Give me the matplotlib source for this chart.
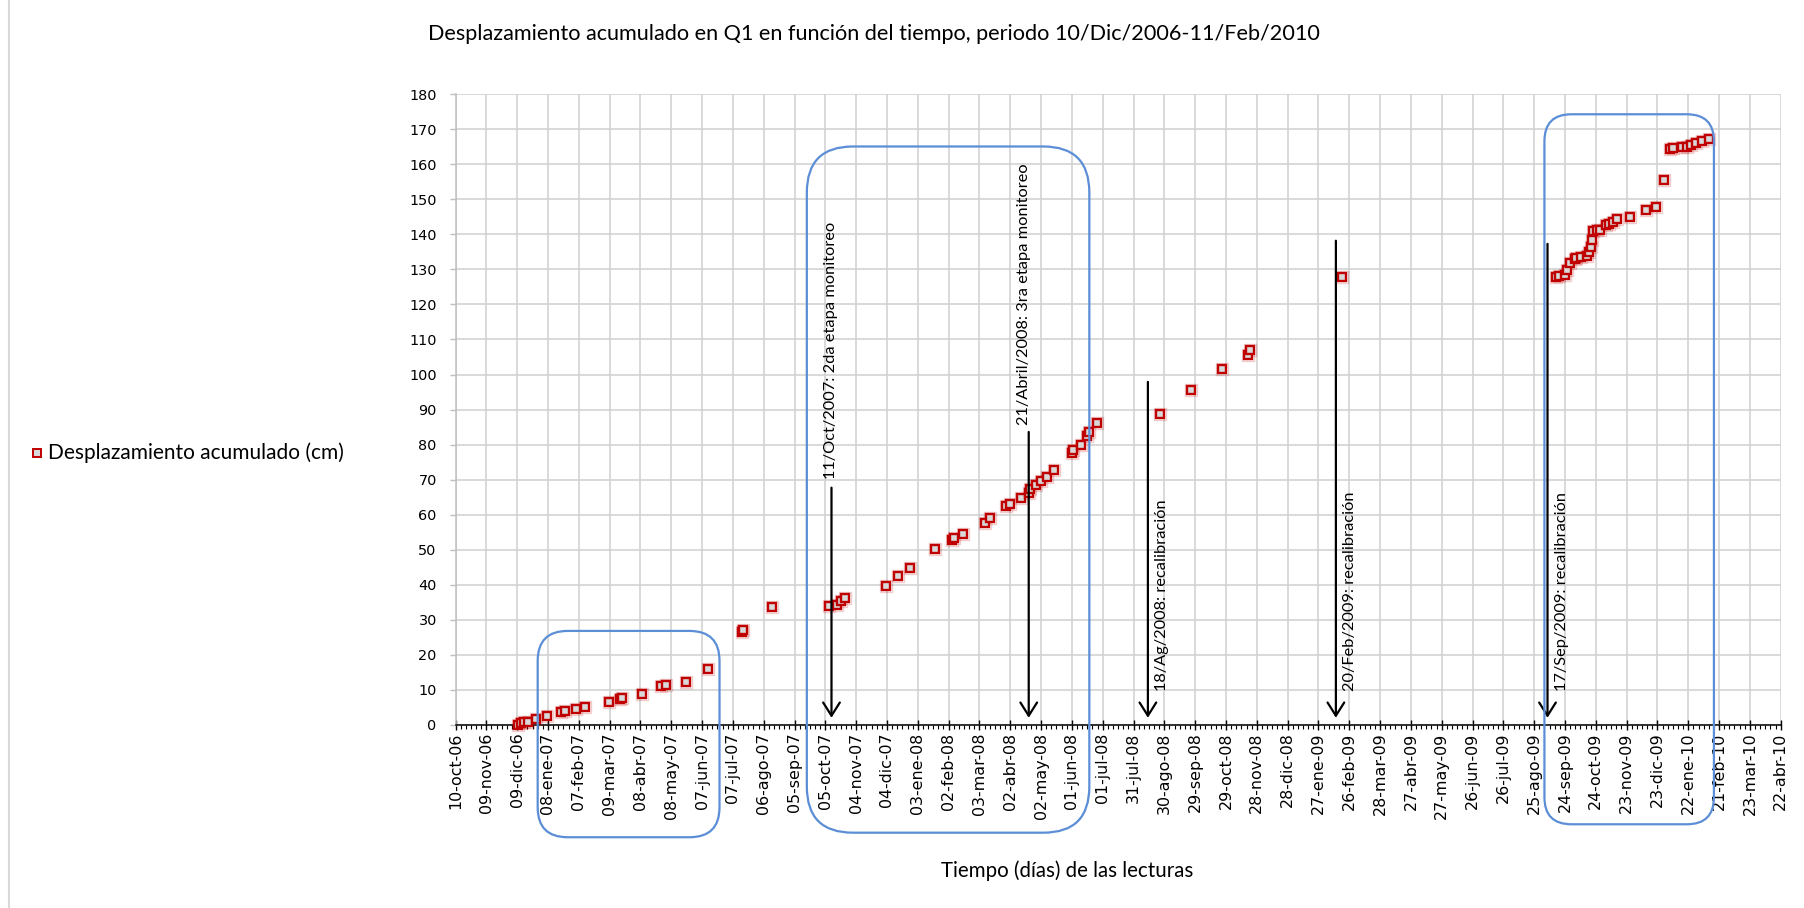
import numpy as np
import pandas as pd
import matplotlib
matplotlib.use("Agg")
import matplotlib.pyplot as plt
import matplotlib.dates as mdates
from matplotlib.patches import FancyBboxPatch
from matplotlib.transforms import offset_copy, IdentityTransform
from matplotlib.lines import Line2D

# ---------------------------------------------------------------- data
reading_dates = [
    "2006-12-10", "2006-12-13", "2006-12-16", "2006-12-20", "2006-12-27",
    "2007-01-07", "2007-01-21", "2007-01-25", "2007-02-04", "2007-02-13",
    "2007-03-08", "2007-03-19", "2007-03-21", "2007-04-10", "2007-04-28",
    "2007-05-03", "2007-05-22", "2007-06-13", "2007-07-16", "2007-07-17",
    "2007-08-14",
    "2007-10-09", "2007-10-16", "2007-10-20", "2007-10-24", "2007-12-03",
    "2007-12-15", "2007-12-26", "2008-01-20", "2008-02-05", "2008-02-07",
    "2008-02-16", "2008-03-08", "2008-03-13", "2008-03-29", "2008-04-02",
    "2008-04-12", "2008-04-20", "2008-04-21", "2008-04-27", "2008-05-02",
    "2008-05-08", "2008-05-15", "2008-06-01", "2008-06-02", "2008-06-10",
    "2008-06-16", "2008-06-18", "2008-06-25",
    "2008-08-26", "2008-09-25", "2008-10-25", "2008-11-19", "2008-11-21",
    "2009-02-19",
    "2009-09-15", "2009-09-18", "2009-09-24", "2009-09-26", "2009-09-29",
    "2009-10-04", "2009-10-05", "2009-10-10", "2009-10-15", "2009-10-17",
    "2009-10-19", "2009-10-20", "2009-10-21", "2009-10-25", "2009-10-28",
    "2009-11-03", "2009-11-06", "2009-11-10", "2009-11-14", "2009-11-26",
    "2009-12-12", "2009-12-22", "2009-12-29", "2010-01-04", "2010-01-07",
    "2010-01-16", "2010-01-21", "2010-01-25", "2010-01-30", "2010-02-04",
    "2010-02-11",
]
displacement_cm = [
    0.0, 0.4, 0.7, 0.9, 1.6,
    2.6, 3.7, 4.0, 4.5, 5.2,
    6.6, 7.4, 7.6, 8.8, 11.1,
    11.5, 12.1, 15.9, 26.6, 27.0,
    33.7,
    33.8, 34.3, 35.3, 36.1, 39.5,
    42.5, 44.8, 50.1, 52.8, 53.3,
    54.5, 57.5, 59.1, 62.5, 62.9,
    64.7, 66.2, 67.2, 68.6, 69.5,
    70.8, 72.6, 77.7, 78.4, 80.0,
    82.5, 83.6, 86.3,
    88.6, 95.6, 101.6, 105.6, 107.0,
    127.7,
    127.9, 128.2, 128.4, 129.8, 131.7,
    132.9, 133.4, 133.6, 133.8, 135.1,
    136.3, 138.4, 141.0, 141.4, 141.4,
    142.7, 143.0, 143.6, 144.3, 145.0,
    146.9, 147.7, 155.5, 164.3, 164.6,
    164.9, 165.0, 165.5, 166.2, 166.7,
    167.1,
]

tick_labels = [
    "10-oct-06", "09-nov-06", "09-dic-06", "08-ene-07", "07-feb-07",
    "09-mar-07", "08-abr-07", "08-may-07", "07-jun-07", "07-jul-07",
    "06-ago-07", "05-sep-07", "05-oct-07", "04-nov-07", "04-dic-07",
    "03-ene-08", "02-feb-08", "03-mar-08", "02-abr-08", "02-may-08",
    "01-jun-08", "01-jul-08", "31-jul-08", "30-ago-08", "29-sep-08",
    "29-oct-08", "28-nov-08", "28-dic-08", "27-ene-09", "26-feb-09",
    "28-mar-09", "27-abr-09", "27-may-09", "26-jun-09", "26-jul-09",
    "25-ago-09", "24-sep-09", "24-oct-09", "23-nov-09", "23-dic-09",
    "22-ene-10", "21-feb-10", "23-mar-10", "22-abr-10",
]
y_ticks = list(range(0, 181, 10))

# events marked with arrows
event_dates = ["2007-10-11", "2008-04-20", "2008-08-14", "2009-02-13", "2009-09-07"]
event_labels = [
    "11/Oct/2007: 2da etapa monitoreo",
    "21/Abril/2008: 3ra etapa monitoreo",
    "18/Ag/2008: recalibración",
    "20/Feb/2009: recalibración",
    "17/Sep/2009: recalibración",
]
arrow_top = [67.7, 83.6, 97.9, 138.2, 137.3]
arrow_tip = 2.0
label_base = [70.3, 85.6, 9.7, 9.7, 9.7]
label_dx_px = [0, -5, 14, 14, 14]

# rounded frames around the monitoring stages: (start, end, top, bottom, radius px)
stage_frames = [
    ("2006-12-29", "2007-06-24", 26.8, -32.1, 30),
    ("2007-09-17", "2008-06-18", 165.1, -30.8, 46),
    ("2009-09-04", "2010-02-16", 174.3, -28.4, 27),
]

MONTHS = {"ene": 1, "feb": 2, "mar": 3, "abr": 4, "may": 5, "jun": 6,
          "jul": 7, "ago": 8, "sep": 9, "oct": 10, "nov": 11, "dic": 12}


def parse_label(s):
    d, m, y = s.split("-")
    return pd.Timestamp(2000 + int(y), MONTHS[m], int(d))


# ---------------------------------------------------------------- figure
W, H, DPI = 1804, 908, 100
fig = plt.figure(figsize=(W / DPI, H / DPI), dpi=DPI, facecolor="white")
ax = fig.add_axes([455.5 / W, 1 - 724.8 / H, (1780.7 - 455.5) / W, (724.8 - 94.3) / H])

TEXT_FONT = ["Lato", "DejaVu Sans"]
TICK_FONT = ["DejaVu Sans"]
RED = "#C00000"
FACE = "#D9D9D9"
BLUE = "#5B8ED6"

x = mdates.date2num(pd.to_datetime(reading_dates))
tick_pos = mdates.date2num([parse_label(s) for s in tick_labels])

ax.set_xlim(tick_pos[0], tick_pos[-1])
ax.set_ylim(0, 180)

# soft halo then the markers
ax.plot(x, displacement_cm, ls="none", marker="s", ms=8.0, mfc="none",
        mec=RED, mew=1.0, alpha=0.2, clip_on=False, zorder=4)
ax.plot(x, displacement_cm, ls="none", marker="s", ms=5.4, mfc=FACE,
        mec=RED, mew=1.7, clip_on=False, zorder=5)

# axes styling
ax.set_xticks(tick_pos)
ax.set_xticklabels(tick_labels, rotation=90, fontfamily=TICK_FONT, fontsize=11.4)
ax.set_xticks(np.arange(tick_pos[0], tick_pos[-1] + 0.1, 5), minor=True)
ax.set_yticks(y_ticks)
ax.set_yticklabels([str(v) for v in y_ticks], fontfamily=TICK_FONT, fontsize=10.4)

ax.grid(True, which="major", color="#D0D0D0", lw=1.1, zorder=0)
ax.set_axisbelow(True)
for s in ("top", "right"):
    ax.spines[s].set_visible(False)
ax.spines["left"].set_color("#BFBFBF")
ax.spines["left"].set_linewidth(1.1)
ax.spines["bottom"].set_color("black")
ax.spines["bottom"].set_linewidth(1.1)
ax.spines["bottom"].set_zorder(3)

ax.tick_params(axis="y", which="major", direction="out", length=4.5, width=1.0,
               color="#BFBFBF", labelcolor="black", pad=9)
ax.tick_params(axis="x", which="major", direction="inout", length=7, width=1.0,
               color="black", labelcolor="black", pad=2)
ax.tick_params(axis="x", which="minor", direction="out", length=3, width=0.8,
               color="black")

# arrows with their notes
for d, lab, top, base, dx in zip(event_dates, event_labels, arrow_top,
                                 label_base, label_dx_px):
    xd = mdates.date2num(pd.Timestamp(d))
    ax.annotate("", xy=(xd, arrow_tip), xytext=(xd, top),
                arrowprops=dict(arrowstyle="->,head_length=0.95,head_width=0.6",
                                lw=1.6, color="black", shrinkA=0, shrinkB=0,
                                mutation_scale=10),
                zorder=6, annotation_clip=False)
    tr = offset_copy(ax.transData, fig=fig, x=dx, y=0, units="dots")
    ax.text(xd, base, lab, rotation=90, ha="center", va="bottom",
            fontfamily=TEXT_FONT, fontsize=11.8, color="black", transform=tr,
            zorder=6)

# rounded frames drawn in pixel space so the corner radius stays round
fig.canvas.draw()
for start, end, top, bottom, rad in stage_frames:
    x0, y0 = ax.transData.transform((mdates.date2num(pd.Timestamp(start)), bottom))
    x1, y1 = ax.transData.transform((mdates.date2num(pd.Timestamp(end)), top))
    box = FancyBboxPatch((x0, y0), x1 - x0, y1 - y0,
                         boxstyle=f"round,pad=0,rounding_size={rad}",
                         fc="none", ec=BLUE, lw=1.6, transform=IdentityTransform(),
                         zorder=7)
    fig.add_artist(box)

# titles and legend
fig.text(428 / W, 1 - 34.5 / H,
         "Desplazamiento acumulado en Q1 en función del tiempo, periodo 10/Dic/2006-11/Feb/2010",
         ha="left", va="center", fontfamily=TEXT_FONT, fontsize=15.6, color="black")
fig.text(1067 / W, 1 - 871 / H, "Tiempo (días) de las lecturas",
         ha="center", va="center", fontfamily=TEXT_FONT, fontsize=14.8, color="black")

fig.add_artist(Line2D([36.5 / W], [1 - 453 / H], marker="s", ms=5.6, mfc=FACE,
                      mec=RED, mew=1.4, ls="none", transform=fig.transFigure))
fig.text(48 / W, 1 - 453 / H, "Desplazamiento acumulado (cm)",
         ha="left", va="center", fontfamily=TEXT_FONT, fontsize=15.0, color="black")

# outer chart border on the left
fig.add_artist(Line2D([9 / W, 9 / W], [0, 1], color="#D9D9D9", lw=1.5,
                      transform=fig.transFigure))

fig.savefig("out.png", dpi=DPI, facecolor="white")
